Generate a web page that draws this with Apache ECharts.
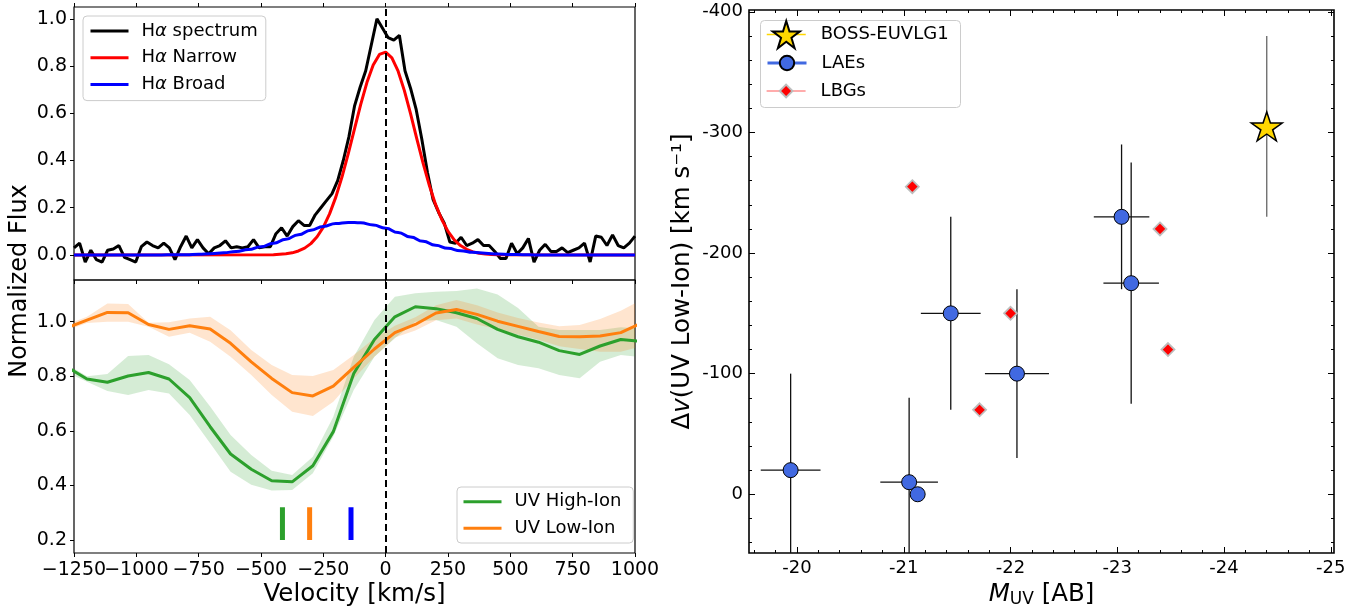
<!DOCTYPE html>
<html>
<head>
<meta charset="utf-8">
<script src="https://cdn.jsdelivr.net/npm/echarts@6.0.0/dist/echarts.min.js"></script>
<style>
html, body { margin: 0; padding: 0; background: #fff; }
#chart { width: 1368px; height: 615px; }
</style>
</head>
<body>
<div id="chart"></div>
<script>
// H-alpha spectrum, one value every 22.5 km/s starting at -1250
var specStart = -1250, specStep = 22.5;
var specFlux = [
    0.03, 0.05, -0.03, 0.02, -0.02, -0.03, 0.02, 0.025, 0.04, -0.01,
    -0.02, -0.03, 0.035, 0.055, 0.04, 0.03, 0.05, 0.03, -0.02, 0.035,
    0.08, 0.03, 0.065, 0.03, 0.005, 0.03, 0.04, 0.06, 0.03, 0.035,
    0.03, 0.035, 0.065, 0.03, 0.035, 0.035, 0.09, 0.115, 0.08, 0.12,
    0.145, 0.125, 0.125, 0.17, 0.20, 0.23, 0.26, 0.315, 0.40, 0.50,
    0.63, 0.71, 0.78, 0.89, 1.00, 0.96, 0.92, 0.91, 0.93, 0.78,
    0.705, 0.615, 0.49, 0.35, 0.235, 0.18, 0.135, 0.055, 0.05, 0.075,
    0.04, 0.05, 0.065, 0.04, 0.04, 0.015, -0.015, -0.015, 0.05, 0.005,
    0.03, 0.07, -0.03, 0.02, 0.045, 0.015, 0.015, 0.03, 0.01, 0.02,
    0.03, 0.05, -0.03, 0.08, 0.075, 0.04, 0.085, 0.04, 0.03, 0.05,
    0.08
];
// narrow component
var narrowVel = [-1250, -450, -425, -400, -375, -350, -325, -300, -275, -250, -225, -200, -175, -150, -125, -100, -75, -50, -25, 0,
    25, 50, 75, 100, 125, 150, 175, 200, 225, 250, 275, 300, 325, 350, 375, 400, 425, 450, 1000];
var narrowFlux = [0, 0.001, 0.003, 0.005, 0.009, 0.017, 0.029, 0.048, 0.077, 0.118, 0.174, 0.245, 0.331, 0.429, 0.534, 0.638, 0.731, 0.804, 0.849, 0.859,
    0.835, 0.778, 0.696, 0.597, 0.492, 0.389, 0.295, 0.214, 0.150, 0.100, 0.064, 0.040, 0.024, 0.013, 0.007, 0.004, 0.002, 0.001, 0];
// broad component
var broadVel = [-1250, -900, -850, -800, -750, -700, -650, -600, -550, -500, -450, -400, -350, -300, -250, -200, -150, -100, -50, 0,
    50, 100, 150, 200, 250, 300, 350, 400, 450, 500, 550, 600, 1000];
var broadFlux = [0, 0, 0.001, 0.001, 0.003, 0.005, 0.009, 0.015, 0.023, 0.035, 0.050, 0.067, 0.086, 0.105, 0.121, 0.133, 0.138, 0.136, 0.127, 0.113,
    0.095, 0.076, 0.058, 0.041, 0.028, 0.018, 0.011, 0.007, 0.004, 0.002, 0.001, 0, 0];

// UV absorption profiles
var uvVel = [-1280, -1198, -1116, -1033, -951, -869, -786, -704, -622, -539, -457, -375, -292, -210, -128, -45,
    37, 119, 202, 284, 366, 449, 531, 613, 696, 778, 860, 943, 1025];
var highIon = [0.835, 0.790, 0.778, 0.801, 0.814, 0.790, 0.722, 0.615, 0.515, 0.459, 0.417, 0.413, 0.472, 0.597, 0.81, 0.935,
    1.018, 1.055, 1.048, 1.033, 1.012, 0.972, 0.945, 0.925, 0.894, 0.880, 0.911, 0.935, 0.928];
var highLo = [0.815, 0.78, 0.746, 0.731, 0.750, 0.737, 0.658, 0.554, 0.450, 0.402, 0.381, 0.383, 0.444, 0.579, 0.750, 0.872,
    0.939, 1.0, 1.006, 0.982, 0.921, 0.866, 0.841, 0.829, 0.805, 0.793, 0.853, 0.878, 0.87];
var highHi = [0.845, 0.80, 0.808, 0.874, 0.878, 0.844, 0.786, 0.689, 0.585, 0.511, 0.454, 0.438, 0.505, 0.652, 0.872, 1.006,
    1.092, 1.104, 1.11, 1.113, 1.122, 1.10, 1.05, 0.982, 0.970, 0.97, 0.97, 0.98, 0.975];
var lowIon = [0.977, 1.006, 1.034, 1.033, 0.990, 0.972, 0.985, 0.973, 0.921, 0.853, 0.792, 0.740, 0.728, 0.764, 0.833, 0.90,
    0.96, 0.99, 1.032, 1.045, 1.027, 1.002, 0.983, 0.964, 0.946, 0.945, 0.948, 0.96, 0.995];
var lowLo = [0.968, 0.995, 1.0, 1.0, 0.982, 0.945, 0.960, 0.927, 0.872, 0.805, 0.731, 0.670, 0.654, 0.707, 0.792, 0.872,
    0.942, 0.968, 1.005, 1.012, 0.99, 0.972, 0.953, 0.934, 0.91, 0.90, 0.89, 0.89, 0.91];
var lowHi = [0.99, 1.018, 1.067, 1.065, 0.996, 0.998, 1.012, 1.018, 0.969, 0.896, 0.841, 0.805, 0.801, 0.823, 0.878, 0.939,
    0.985, 1.016, 1.06, 1.08, 1.06, 1.034, 1.014, 0.997, 0.983, 0.988, 1.01, 1.04, 1.08];
// velocity markers (high-ion, low-ion, H-alpha broad)
var markVel = [-414, -305, -139];
var markY = [0.2, 0.32];

// right panel
var starM = [-24.4], starDv = [-305], starDvErr = [75];
var laeM = [-19.94, -21.05, -21.13, -21.44, -22.06, -23.04, -23.13];
var laeDv = [-20, -10, 0, -150, -100, -230, -175];
var laeMErr = [0.28, 0.27, 0, 0.28, 0.30, 0.26, 0.26];
var laeDvErr = [80, 70, 0, 80, 70, 60, 100];
var lbgM = [-21.08, -21.71, -22.0, -23.40, -23.475];
var lbgDv = [-255, -70, -150, -220, -120];

// tick labels
var velTicks = [-1250, -1000, -750, -500, -250, 0, 250, 500, 750, 1000];
var fluxTicks = [0, 0.2, 0.4, 0.6, 0.8, 1.0];
var uvTicks = [0.2, 0.4, 0.6, 0.8, 1.0];
var mTicks = [-20, -21, -22, -23, -24, -25];
var dvTicks = [-400, -300, -200, -100, 0];

var FONT = '"DejaVu Sans", sans-serif';
var TITLE = 24.5;

function pairs(xs, ys) {
    return xs.map(function (x, i) { return [x, ys[i]]; });
}
var specVel = specFlux.map(function (f, i) { return specStart + specStep * i; });

// minor ticks: 5 per major interval
function minorBetween(major, lo, hi) {
    var step = (major[1] - major[0]) / 5, big = major[1] - major[0], out = [];
    for (var k = -60; k <= 60; k++) {
        var v = Math.round((major[0] + k * step) * 1000) / 1000;
        if (v < Math.min(lo, hi) || v > Math.max(lo, hi)) continue;
        if (Math.abs(v / big - Math.round(v / big)) < 1e-6) continue;
        out.push(v);
    }
    return out;
}
var mMinor = minorBetween(mTicks, -25.03, -19.55);
var dvMinor = minorBetween(dvTicks, -401.5, 48.7);

var tickOut = { show: true, length: 4, lineStyle: { color: '#000', width: 1 } };
var labelBase = { color: '#000', fontFamily: FONT };

function axisBase(o) {
    var a = {
        type: 'value', splitLine: { show: false }, axisLine: { show: false, onZero: false },
        axisLabel: { show: false }, axisTick: { show: false }
    };
    for (var k in o) a[k] = o[k];
    return a;
}
function tickIn(len, values) {
    return { show: true, inside: true, length: len, customValues: values, lineStyle: { color: '#000', width: 1 } };
}
function velLabel(values) {
    return Object.assign({
        show: true, fontSize: 19, margin: 8, customValues: values, hideOverlap: false,
        formatter: function (v) { return (v < 0 ? '\u2212' : '') + Math.abs(v); }
    }, labelBase);
}

function errRender(color) {
    return function (params, api) {
        var x = api.value(0), y = api.value(1), ex = api.value(2), ey = api.value(3);
        var cs = params.coordSys;
        var cx = function (p) { return Math.max(cs.x, Math.min(cs.x + cs.width, p)); };
        var cy = function (p) { return Math.max(cs.y, Math.min(cs.y + cs.height, p)); };
        var style = { stroke: color, lineWidth: 1.3 };
        var kids = [];
        if (ex > 0) {
            var a = api.coord([x - ex, y]), b = api.coord([x + ex, y]);
            kids.push({ type: 'line', shape: { x1: cx(a[0]), y1: a[1], x2: cx(b[0]), y2: b[1] }, style: style });
        }
        if (ey > 0) {
            var c = api.coord([x, y - ey]), d = api.coord([x, y + ey]);
            kids.push({ type: 'line', shape: { x1: c[0], y1: cy(c[1]), x2: d[0], y2: cy(d[1]) }, style: style });
        }
        return { type: 'group', children: kids };
    };
}

// shaded uncertainty band, drawn once as one polygon
function bandRender(xs, lo, hi, color) {
    return function (params, api) {
        if (params.dataIndex !== 0) return;
        var pts = [], i;
        for (i = 0; i < xs.length; i++) pts.push(api.coord([xs[i], hi[i]]));
        for (i = xs.length - 1; i >= 0; i--) pts.push(api.coord([xs[i], lo[i]]));
        var cs = params.coordSys;
        return {
            type: 'polygon', shape: { points: pts }, style: { fill: color },
            clipPath: { type: 'rect', shape: { x: cs.x, y: cs.y, width: cs.width, height: cs.height } }
        };
    };
}

function zeroLine() {
    return {
        silent: true, symbol: 'none', label: { show: false },
        lineStyle: { color: '#000', type: [7, 4], width: 2 },
        data: [{ xAxis: 0 }]
    };
}

var chart = echarts.init(document.getElementById('chart'));

var option = {
    animation: false,
    backgroundColor: '#fff',
    textStyle: { fontFamily: FONT },
    grid: [
        { left: 74, top: 7, width: 561, height: 273, show: true, borderColor: '#000', borderWidth: 1.2, backgroundColor: 'transparent', containLabel: false, outerBoundsMode: 'none' },
        { left: 74, top: 280, width: 561, height: 273, show: true, borderColor: '#000', borderWidth: 1.2, backgroundColor: 'transparent', containLabel: false, outerBoundsMode: 'none' },
        { left: 749, top: 10, width: 585, height: 543, show: true, borderColor: '#000', borderWidth: 1.6, backgroundColor: 'transparent', containLabel: false, outerBoundsMode: 'none' }
    ],
    xAxis: [
        axisBase({ gridIndex: 0, position: 'bottom', min: -1250, max: 1000, interval: 250, axisTick: tickOut }),
        axisBase({ gridIndex: 0, position: 'top', min: -1250, max: 1000, interval: 250, axisTick: tickOut }),
        axisBase({
            gridIndex: 1, position: 'bottom', min: -1250, max: 1000, interval: 250, axisTick: tickOut,
            axisLabel: velLabel(velTicks.slice(1)),
            name: 'Velocity [km/s]', nameLocation: 'middle', nameGap: 29,
            nameTextStyle: { fontSize: TITLE, color: '#000', fontFamily: FONT }
        }),
        axisBase({
            gridIndex: 2, position: 'bottom', inverse: true, min: -25.03, max: -19.55,
            axisTick: tickIn(6, mTicks),
            axisLabel: Object.assign({ show: true, fontSize: 18, margin: 6, customValues: mTicks, formatter: function (v) { return String(v); } }, labelBase),
            name: '{i|M}{s|UV} [AB]', nameLocation: 'middle', nameGap: 24,
            nameTextStyle: {
                fontSize: TITLE, color: '#000', fontFamily: FONT,
                rich: {
                    i: { fontSize: TITLE, fontStyle: 'italic', fontFamily: FONT, color: '#000' },
                    s: { fontSize: 17, fontFamily: FONT, color: '#000', padding: [11, 0, 0, 0] }
                }
            }
        }),
        axisBase({ gridIndex: 2, position: 'bottom', inverse: true, min: -25.03, max: -19.55, axisTick: tickIn(3, mMinor) }),
        axisBase({ gridIndex: 2, position: 'top', inverse: true, min: -25.03, max: -19.55, axisTick: tickIn(6, mTicks) }),
        axisBase({ gridIndex: 2, position: 'top', inverse: true, min: -25.03, max: -19.55, axisTick: tickIn(3, mMinor) }),
        // first velocity label kept on its own axis so it may overlap its neighbour, as in the original
        axisBase({ gridIndex: 1, position: 'bottom', min: -1250, max: 1000, interval: 250, axisLabel: velLabel(velTicks.slice(0, 1)) })
    ],
    yAxis: [
        axisBase({
            gridIndex: 0, position: 'left', min: -0.106, max: 1.05,
            axisTick: Object.assign({ customValues: fluxTicks }, tickOut),
            axisLabel: Object.assign({ show: true, fontSize: 19, margin: 7, customValues: fluxTicks,
                formatter: function (v) { return v.toFixed(1); } }, labelBase)
        }),
        axisBase({
            gridIndex: 1, position: 'left', min: 0.152, max: 1.153,
            axisTick: Object.assign({ customValues: uvTicks }, tickOut),
            axisLabel: Object.assign({ show: true, fontSize: 19, margin: 7, customValues: uvTicks,
                formatter: function (v) { return v.toFixed(1); } }, labelBase)
        }),
        axisBase({
            gridIndex: 2, position: 'left', inverse: true, min: -401.5, max: 48.7,
            axisTick: tickIn(6, dvTicks),
            axisLabel: Object.assign({ show: true, fontSize: 18, margin: 6, customValues: dvTicks, formatter: function (v) { return String(v); } }, labelBase),
            name: '{r|\u0394}{i|v}(UV Low-Ion) [km s\u207B\u00B9]', nameLocation: 'middle', nameGap: 54, nameRotate: 90,
            nameTextStyle: {
                fontSize: TITLE, color: '#000', fontFamily: FONT,
                rich: {
                    r: { fontSize: TITLE, fontFamily: FONT, color: '#000' },
                    i: { fontSize: TITLE, fontStyle: 'italic', fontFamily: FONT, color: '#000' }
                }
            }
        }),
        axisBase({ gridIndex: 2, position: 'left', inverse: true, min: -401.5, max: 48.7, axisTick: tickIn(3, dvMinor) }),
        axisBase({ gridIndex: 2, position: 'right', inverse: true, min: -401.5, max: 48.7, axisTick: tickIn(6, dvTicks) }),
        axisBase({ gridIndex: 2, position: 'right', inverse: true, min: -401.5, max: 48.7, axisTick: tickIn(3, dvMinor) })
    ],
    legend: [
        {
            data: ['H\u03b1 spectrum', 'H\u03b1 Narrow', 'H\u03b1 Broad'],
            orient: 'vertical', left: 83, top: 16, itemWidth: 38, itemHeight: 14, itemGap: 8.8,
            padding: [6, 8, 7, 6], selectedMode: false, itemStyle: { opacity: 0 }, lineStyle: { width: 3 },
            backgroundColor: 'rgba(255,255,255,0.8)', borderColor: '#ccc', borderWidth: 1, borderRadius: 4,
            formatter: function (n) { return '{p| }' + n.replace('\u03b1', '{a|\u03b1}'); },
            textStyle: {
                fontSize: 18, color: '#000', fontFamily: FONT,
                rich: {
                    p: { width: 8, fontSize: 18 },
                    a: { fontSize: 18, fontStyle: 'italic', fontFamily: FONT, color: '#000' }
                }
            }
        },
        {
            data: ['UV High-Ion', 'UV Low-Ion'],
            orient: 'vertical', left: 457, top: 487, itemWidth: 38, itemHeight: 14, itemGap: 8.6,
            padding: [5.7, 12, 5.7, 5], selectedMode: false, itemStyle: { opacity: 0 }, lineStyle: { width: 3 },
            backgroundColor: 'rgba(255,255,255,0.8)', borderColor: '#ccc', borderWidth: 1, borderRadius: 4,
            textStyle: { fontSize: 18, color: '#000', fontFamily: FONT, padding: [0, 0, 0, 8] }
        },
        {
            data: [{ name: 'BOSS-EUVLG1', lineStyle: { opacity: 1, color: '#ffd700', width: 1.5 } }],
            left: 766, top: 20, itemWidth: 39, itemHeight: 34, padding: 0, selectedMode: false, z: 6,
            textStyle: { fontSize: 18, color: '#000', fontFamily: FONT, padding: [0, 0, 0, 10] }
        },
        {
            data: [{ name: 'LAEs', lineStyle: { opacity: 1, color: '#4169e1', width: 3 } }],
            left: 766, top: 54, itemWidth: 39, itemHeight: 18, padding: 0, selectedMode: false, z: 6,
            textStyle: { fontSize: 18, color: '#000', fontFamily: FONT, padding: [0, 0, 0, 10] }
        },
        {
            data: [{ name: 'LBGs', lineStyle: { opacity: 1, color: '#ff5a5a', width: 1.2 } }],
            left: 766, top: 82, itemWidth: 39, itemHeight: 16, padding: 0, selectedMode: false, z: 6,
            textStyle: { fontSize: 18, color: '#000', fontFamily: FONT, padding: [0, 0, 0, 10] }
        }
    ],
    graphic: [
        {
            type: 'text', x: 20, y: 281, rotation: Math.PI / 2, z: 10,
            style: { text: 'Normalized Flux', fill: '#000', font: '24px ' + FONT, align: 'center', verticalAlign: 'middle' }
        },
        {
            type: 'rect', z: 4, shape: { x: 760.5, y: 20.5, width: 200, height: 87, r: 4 },
            style: { fill: 'rgba(255,255,255,0.8)', stroke: '#ccc', lineWidth: 1 }
        }
    ],
    series: [
        // top panel
        {
            type: 'line', name: 'H\u03b1 spectrum', xAxisIndex: 0, yAxisIndex: 0, data: pairs(specVel, specFlux),
            symbol: 'none', lineStyle: { color: '#000', width: 3 }, itemStyle: { color: '#000' }, z: 2,
            markLine: zeroLine()
        },
        {
            type: 'line', name: 'H\u03b1 Narrow', xAxisIndex: 0, yAxisIndex: 0, data: pairs(narrowVel, narrowFlux),
            symbol: 'none', lineStyle: { color: '#ff0000', width: 3 }, itemStyle: { color: '#ff0000' }, z: 3
        },
        {
            type: 'line', name: 'H\u03b1 Broad', xAxisIndex: 0, yAxisIndex: 0, data: pairs(broadVel, broadFlux),
            symbol: 'none', smooth: true, smoothMonotone: 'x',
            lineStyle: { color: '#0000ff', width: 3 }, itemStyle: { color: '#0000ff' }, z: 4
        },
        // bottom panel: shaded bands
        {
            type: 'custom', xAxisIndex: 2, yAxisIndex: 1, silent: true, z: 1, encode: { x: 0, y: [1, 2] },
            renderItem: bandRender(uvVel, highLo, highHi, 'rgba(44,160,44,0.2)'),
            data: uvVel.map(function (v, i) { return [v, highLo[i], highHi[i]]; })
        },
        {
            type: 'custom', xAxisIndex: 2, yAxisIndex: 1, silent: true, z: 1, encode: { x: 0, y: [1, 2] },
            renderItem: bandRender(uvVel, lowLo, lowHi, 'rgba(255,127,14,0.2)'),
            data: uvVel.map(function (v, i) { return [v, lowLo[i], lowHi[i]]; })
        },
        {
            type: 'line', name: 'UV High-Ion', xAxisIndex: 2, yAxisIndex: 1, data: pairs(uvVel, highIon),
            symbol: 'none', lineStyle: { color: '#2ca02c', width: 3 }, itemStyle: { color: '#2ca02c' }, z: 2,
            markLine: zeroLine()
        },
        {
            type: 'line', name: 'UV Low-Ion', xAxisIndex: 2, yAxisIndex: 1, data: pairs(uvVel, lowIon),
            symbol: 'none', lineStyle: { color: '#ff7f0e', width: 3 }, itemStyle: { color: '#ff7f0e' }, z: 3
        }
    ].concat(markVel.map(function (v, i) {
        var col = ['#2ca02c', '#ff7f0e', '#0000ff'][i];
        return {
            type: 'line', xAxisIndex: 2, yAxisIndex: 1, data: [[v, markY[0]], [v, markY[1]]],
            symbol: 'none', lineStyle: { color: col, width: 5, cap: 'butt' }, silent: true, z: 3
        };
    })).concat([
        // right panel: error bars
        {
            type: 'custom', xAxisIndex: 3, yAxisIndex: 2, renderItem: errRender('#111'), silent: true, z: 2,
            encode: { x: 0, y: 1 },
            data: laeM.map(function (m, i) { return [m, laeDv[i], laeMErr[i], laeDvErr[i]]; })
        },
        {
            type: 'custom', xAxisIndex: 3, yAxisIndex: 2, renderItem: errRender('#666'), silent: true, z: 2,
            encode: { x: 0, y: 1 },
            data: starM.map(function (m, i) { return [m, starDv[i], 0, starDvErr[i]]; })
        },
        {
            type: 'line', name: 'LBGs', xAxisIndex: 3, yAxisIndex: 2, data: pairs(lbgM, lbgDv),
            symbol: 'diamond', symbolSize: 13, lineStyle: { opacity: 0 },
            itemStyle: { color: '#ff0000', borderColor: '#bdbdbd', borderWidth: 1.8 }, z: 3
        },
        {
            type: 'line', name: 'LAEs', xAxisIndex: 3, yAxisIndex: 2, data: pairs(laeM, laeDv),
            symbol: 'circle', symbolSize: 15, lineStyle: { opacity: 0 },
            itemStyle: { color: '#4169e1', borderColor: '#000', borderWidth: 1 }, z: 4
        },
        {
            type: 'line', name: 'BOSS-EUVLG1', xAxisIndex: 3, yAxisIndex: 2, data: pairs(starM, starDv),
            symbol: 'path://M0,-10L2.245,-3.09L9.511,-3.09L3.633,1.18L5.878,8.09L0,3.82L-5.878,8.09L-3.633,1.18L-9.511,-3.09L-2.245,-3.09Z',
            symbolSize: [31, 29], lineStyle: { opacity: 0 },
            itemStyle: { color: '#ffd700', borderColor: '#000', borderWidth: 1.5 }, z: 5
        }
    ])
};

chart.setOption(option);
</script>
</body>
</html>
